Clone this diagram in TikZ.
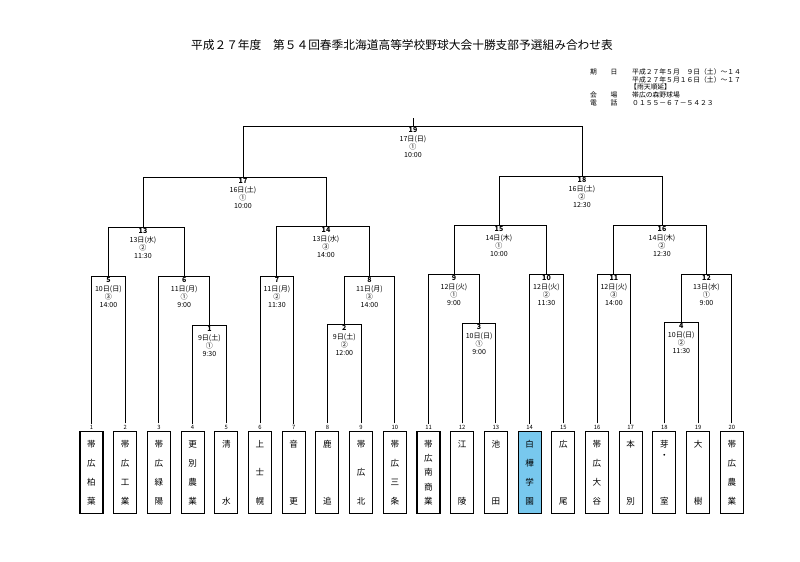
\documentclass[tikz,border=0pt]{standalone}
\usepackage{fontspec}
\setmainfont{Noto Sans CJK JP}
\tikzset{
  bline/.style={-, line width=0.8pt, draw=black},
  team/.style={shape=rectangle, draw=black, line width=0.9pt, minimum width=0.69cm, minimum height=2.46cm, inner sep=0pt, align=center, anchor=north},
  vert2/.style={font=\fontsize{7.3}{48.7}\selectfont},
  vert3/.style={font=\fontsize{7.3}{24.3}\selectfont},
  vert4/.style={font=\fontsize{7.3}{16.2}\selectfont},
  vert5/.style={font=\fontsize{7.3}{12.2}\selectfont},
  seed/.style={font=\fontsize{5}{6}\selectfont, inner sep=1pt},
  game/.style={anchor=north, align=center, inner sep=0pt, font=\fontsize{6}{7.1}\selectfont},
  info/.style={anchor=west, inner sep=0pt, font=\fontsize{5.8}{7}\selectfont},
}
\definecolor{marker}{RGB}{120,200,238}
\begin{document}
\begin{tikzpicture}[x=0.03cm, y=-0.03cm]
\fill[white] (0,0) rectangle (800,562);
\useasboundingbox (0,0) rectangle (800,562);
% title and info
\node[font=\fontsize{10}{12}\selectfont, inner sep=0pt] (title) at (402,45) {平成２７年度　第５４回春季北海道高等学校野球大会十勝支部予選組み合わせ表};
\node[info] (d1a) at (590,72) {期　　日};
\node[info] (d1b) at (632,72) {平成２７年５月　９日（土）～１４};
\node[info] (d2b) at (632,80) {平成２７年５月１６日（土）～１７};
\node[info] (d3b) at (630,87) {【雨天順延】};
\node[info] (d4a) at (590,95) {会　　場};
\node[info] (d4b) at (632,95) {帯広の森野球場};
\node[info] (d5a) at (590,103) {電　　話};
\node[info] (d5b) at (632,103) {０１５５－６７－５４２３};
% seeds
\node[seed] (n1) at (91.5,427) {1};
\node[seed] (n2) at (125.2,427) {2};
\node[seed] (n3) at (158.9,427) {3};
\node[seed] (n4) at (192.6,427) {4};
\node[seed] (n5) at (226.3,427) {5};
\node[seed] (n6) at (260.0,427) {6};
\node[seed] (n7) at (293.7,427) {7};
\node[seed] (n8) at (327.4,427) {8};
\node[seed] (n9) at (361.1,427) {9};
\node[seed] (n10) at (394.8,427) {10};
\node[seed] (n11) at (428.5,427) {11};
\node[seed] (n12) at (462.2,427) {12};
\node[seed] (n13) at (495.9,427) {13};
\node[seed] (n14) at (529.6,427) {14};
\node[seed] (n15) at (563.3,427) {15};
\node[seed] (n16) at (597.0,427) {16};
\node[seed] (n17) at (630.7,427) {17};
\node[seed] (n18) at (664.4,427) {18};
\node[seed] (n19) at (698.1,427) {19};
\node[seed] (n20) at (731.8,427) {20};
% schools
\node[team, vert4] (s1) at (91.5,431) {帯\\広\\柏\\葉};
\node[team, vert4] (s2) at (125.2,431) {帯\\広\\工\\業};
\node[team, vert4] (s3) at (158.9,431) {帯\\広\\緑\\陽};
\node[team, vert4] (s4) at (192.6,431) {更\\別\\農\\業};
\node[team, vert2] (s5) at (226.3,431) {清\\水};
\node[team, vert3] (s6) at (260.0,431) {上\\士\\幌};
\node[team, vert2] (s7) at (293.7,431) {音\\更};
\node[team, vert2] (s8) at (327.4,431) {鹿\\追};
\node[team, vert3] (s9) at (361.1,431) {帯\\広\\北};
\node[team, vert4] (s10) at (394.8,431) {帯\\広\\三\\条};
\node[team, vert5] (s11) at (428.5,431) {帯\\広\\南\\商\\業};
\node[team, vert2] (s12) at (462.2,431) {江\\陵};
\node[team, vert2] (s13) at (495.9,431) {池\\田};
\node[team, vert4, fill=marker] (s14) at (529.6,431) {白\\樺\\学\\園};
\node[team, vert2] (s15) at (563.3,431) {広\\尾};
\node[team, vert4] (s16) at (597.0,431) {帯\\広\\大\\谷};
\node[team, vert2] (s17) at (630.7,431) {本\\別};
\node[team, font=\fontsize{7.3}{9.4}\selectfont] (s18) at (664.4,431) {芽\\・\\[29.7pt]室};
\node[team, vert2] (s19) at (698.1,431) {大\\樹};
\node[team, vert4] (s20) at (731.8,431) {帯\\広\\農\\業};
% games
\coordinate (g1) at (209.4,325);
\coordinate (g2) at (344.3,324);
\coordinate (g3) at (479.1,323);
\coordinate (g4) at (681.3,322);
\coordinate (g5) at (108.4,276);
\coordinate (g6) at (184.2,276);
\coordinate (g7) at (276.9,276);
\coordinate (g8) at (369.5,276);
\coordinate (g9) at (454.0,274);
\coordinate (g10) at (546.5,274);
\coordinate (g11) at (613.9,274);
\coordinate (g12) at (706.5,274);
\coordinate (g13) at (143,227);
\coordinate (g14) at (326,226);
\coordinate (g15) at (499,225);
\coordinate (g16) at (662,225);
\coordinate (g17) at (243,177);
\coordinate (g18) at (582,176);
\coordinate (g19) at (413,126);
\coordinate (top) at (413,118);
\node[game] (l1) at (209.4,326.5) {\textbf{1}\\9日(土)\\①\\9:30};
\node[game] (l2) at (344.3,325.5) {\textbf{2}\\9日(土)\\②\\12:00};
\node[game] (l3) at (479.1,324.5) {\textbf{3}\\10日(日)\\①\\9:00};
\node[game] (l4) at (681.3,323.5) {\textbf{4}\\10日(日)\\②\\11:30};
\node[game] (l5) at (108.4,277.5) {\textbf{5}\\10日(日)\\③\\14:00};
\node[game] (l6) at (184.2,277.5) {\textbf{6}\\11日(月)\\①\\9:00};
\node[game] (l7) at (276.9,277.5) {\textbf{7}\\11日(月)\\②\\11:30};
\node[game] (l8) at (369.5,277.5) {\textbf{8}\\11日(月)\\③\\14:00};
\node[game] (l9) at (454.0,275.5) {\textbf{9}\\12日(火)\\①\\9:00};
\node[game] (l10) at (546.5,275.5) {\textbf{10}\\12日(火)\\②\\11:30};
\node[game] (l11) at (613.9,275.5) {\textbf{11}\\12日(火)\\③\\14:00};
\node[game] (l12) at (706.5,275.5) {\textbf{12}\\13日(水)\\①\\9:00};
\node[game] (l13) at (143,228.5) {\textbf{13}\\13日(水)\\②\\11:30};
\node[game] (l14) at (326,227.5) {\textbf{14}\\13日(水)\\③\\14:00};
\node[game] (l15) at (499,226.5) {\textbf{15}\\14日(木)\\①\\10:00};
\node[game] (l16) at (662,226.5) {\textbf{16}\\14日(木)\\②\\12:30};
\node[game] (l17) at (243,178.5) {\textbf{17}\\16日(土)\\①\\10:00};
\node[game] (l18) at (582,177.5) {\textbf{18}\\16日(土)\\②\\12:30};
\node[game] (l19) at (413,127.5) {\textbf{19}\\17日(日)\\①\\10:00};
% bracket
\draw[bline] (n4) |- (g1);
\draw[bline] (n5) |- (g1);
\draw[bline] (n8) |- (g2);
\draw[bline] (n9) |- (g2);
\draw[bline] (n12) |- (g3);
\draw[bline] (n13) |- (g3);
\draw[bline] (n18) |- (g4);
\draw[bline] (n19) |- (g4);
\draw[bline] (n1) |- (g5);
\draw[bline] (n2) |- (g5);
\draw[bline] (n3) |- (g6);
\draw[bline] (g1) |- (g6);
\draw[bline] (n6) |- (g7);
\draw[bline] (n7) |- (g7);
\draw[bline] (g2) |- (g8);
\draw[bline] (n10) |- (g8);
\draw[bline] (n11) |- (g9);
\draw[bline] (g3) |- (g9);
\draw[bline] (n14) |- (g10);
\draw[bline] (n15) |- (g10);
\draw[bline] (n16) |- (g11);
\draw[bline] (n17) |- (g11);
\draw[bline] (g4) |- (g12);
\draw[bline] (n20) |- (g12);
\draw[bline] (g5) |- (g13);
\draw[bline] (g6) |- (g13);
\draw[bline] (g7) |- (g14);
\draw[bline] (g8) |- (g14);
\draw[bline] (g9) |- (g15);
\draw[bline] (g10) |- (g15);
\draw[bline] (g11) |- (g16);
\draw[bline] (g12) |- (g16);
\draw[bline] (g13) |- (g17);
\draw[bline] (g14) |- (g17);
\draw[bline] (g15) |- (g18);
\draw[bline] (g16) |- (g18);
\draw[bline] (g17) |- (g19);
\draw[bline] (g18) |- (g19);
\draw[bline] (g19) -- (top);
\end{tikzpicture}
\end{document}
